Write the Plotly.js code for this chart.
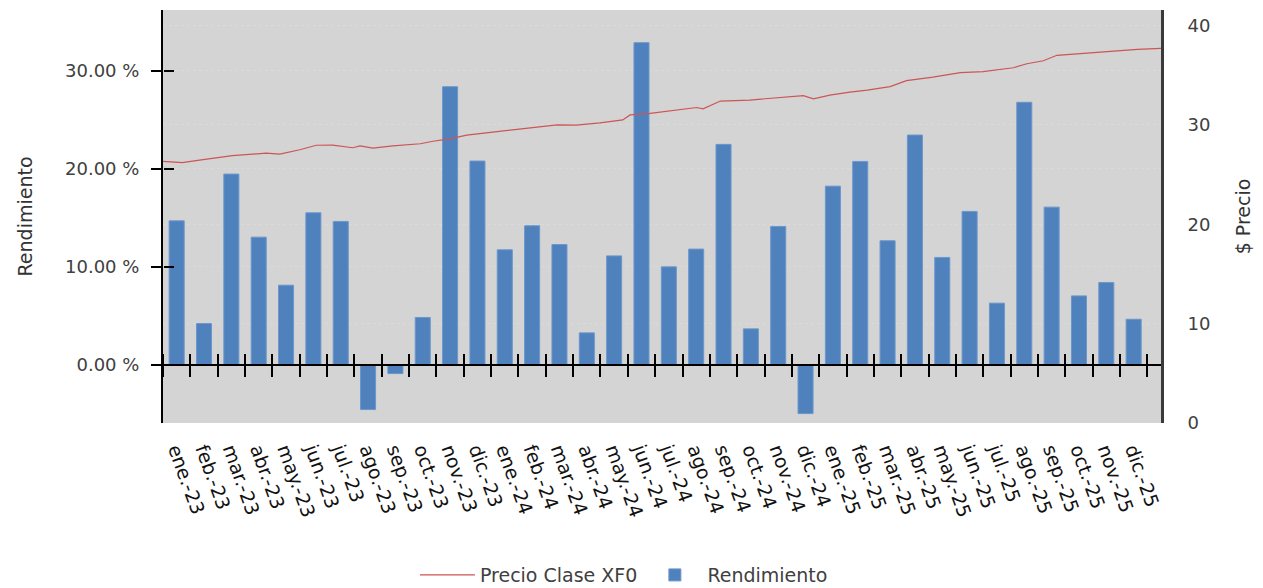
<!DOCTYPE html>
<html>
<head>
<meta charset="utf-8">
<script src="https://cdn.plot.ly/plotly-3.0.1.min.js"></script>
<style>
  html, body { margin: 0; padding: 0; background: #ffffff; }
  #chart { width: 1263px; height: 588px; }
</style>
</head>
<body>
<div id="chart"></div>
<script>
// ---- Data ----
const months = ['ene.-23','feb.-23','mar.-23','abr.-23','may.-23','jun.-23','jul.-23','ago.-23','sep.-23','oct.-23','nov.-23','dic.-23',
                'ene.-24','feb.-24','mar.-24','abr.-24','may.-24','jun.-24','jul.-24','ago.-24','sep.-24','oct.-24','nov.-24','dic.-24',
                'ene.-25','feb.-25','mar.-25','abr.-25','may.-25','jun.-25','jul.-25','ago.-25','sep.-25','oct.-25','nov.-25','dic.-25'];

// Rendimiento mensual (%)
const rendimiento = [14.68, 4.21, 19.45, 13.02, 8.12, 15.50, 14.62, -4.56, -0.89, 4.83, 28.36, 20.78,
                     11.73, 14.18, 12.27, 3.26, 11.11, 32.85, 9.99, 11.80, 22.48, 3.67, 14.11, -4.97,
                     18.22, 20.74, 12.65, 23.43, 10.95, 15.64, 6.29, 26.77, 16.08, 7.03, 8.40, 4.65];

// Precio Clase XF0 ($)
const precioFechas = ['2023-01-02','2023-01-23','2023-02-11','2023-03-19','2023-04-25','2023-05-10','2023-06-01','2023-06-19',
  '2023-07-07','2023-07-29','2023-08-06','2023-08-20','2023-09-11','2023-10-11','2023-10-25','2023-11-12','2023-12-01',
  '2023-12-19','2024-01-06','2024-02-01','2024-03-09','2024-03-30','2024-04-25','2024-05-20','2024-05-28','2024-06-19',
  '2024-07-25','2024-08-09','2024-08-16','2024-09-04','2024-10-06','2024-11-12','2024-12-04','2024-12-15','2025-01-02',
  '2025-01-24','2025-02-12','2025-03-09','2025-03-27','2025-04-25','2025-05-25','2025-06-19','2025-07-22','2025-08-06',
  '2025-08-24','2025-09-08','2025-10-07','2025-10-29','2025-11-13','2025-12-05','2025-12-31'];
const precioValores = [26.33, 26.20, 26.45, 26.90, 27.15, 27.06, 27.50, 27.95,
  27.97, 27.70, 27.88, 27.66, 27.88, 28.10, 28.35, 28.60, 28.97,
  29.15, 29.35, 29.62, 30.00, 29.97, 30.20, 30.50, 31.00, 31.16,
  31.56, 31.75, 31.62, 32.40, 32.50, 32.80, 32.95, 32.62, 33.00,
  33.30, 33.50, 33.85, 34.45, 34.80, 35.25, 35.35, 35.75, 36.15,
  36.45, 37.00, 37.20, 37.30, 37.45, 37.60, 37.70];

const yLeftRange = [-5.93, 36.18];
const yRightRange = [0, 41.56];
const zeroPos = (0 - yLeftRange[0]) / (yLeftRange[1] - yLeftRange[0]);

const FONT = 'DejaVu Sans, Verdana, sans-serif';
const nulls = months.map(() => null);

const traces = [
  {
    type: 'scatter', mode: 'lines', name: 'Precio Clase XF0',
    x: precioFechas, y: precioValores, xaxis: 'x4', yaxis: 'y2',
    line: { color: '#cc5555', width: 1.2 },
    legendrank: 1, hoverinfo: 'x+y'
  },
  {
    type: 'bar', name: 'Rendimiento',
    x: months, y: rendimiento, xaxis: 'x', yaxis: 'y',
    width: 0.55,
    marker: { color: '#4f81bd', line: { color: '#6b97cc', width: 1 } },
    legendrank: 2
  },
  // helper traces so that the overlay axes (crossing tick marks) are drawn
  { type: 'scatter', mode: 'lines', x: months, y: nulls, xaxis: 'x2', yaxis: 'y', showlegend: false, hoverinfo: 'skip' },
  { type: 'scatter', mode: 'lines', x: months, y: nulls, xaxis: 'x3', yaxis: 'y', showlegend: false, hoverinfo: 'skip' },
  { type: 'scatter', mode: 'lines', x: months, y: nulls, xaxis: 'x', yaxis: 'y3', showlegend: false, hoverinfo: 'skip' }
];

const catAxisBase = {
  type: 'category', categoryorder: 'array', categoryarray: months,
  range: [-0.5, 36], fixedrange: true, showgrid: false, zeroline: false
};

const layout = {
  width: 1263, height: 588,
  margin: { l: 163, r: 102, t: 10, b: 165 },
  paper_bgcolor: '#ffffff',
  plot_bgcolor: '#d4d4d4',
  font: { family: FONT, size: 19, color: '#404040' },
  showlegend: true,
  xaxis: Object.assign({}, catAxisBase, {
    showline: false, ticks: '', tickangle: 70,
    tickfont: { family: FONT, size: 19, color: '#111111' },
    ticklabelstandoff: 11
  }),
  // zero axis with tick marks hanging below
  xaxis2: Object.assign({}, catAxisBase, {
    overlaying: 'x', anchor: 'free', position: zeroPos, side: 'bottom',
    showline: true, linecolor: '#000000', linewidth: 2,
    ticks: 'outside', tickson: 'boundaries', ticklen: 11, tickwidth: 2, tickcolor: '#000000',
    showticklabels: false
  }),
  // same axis, tick marks pointing up
  xaxis3: Object.assign({}, catAxisBase, {
    overlaying: 'x', anchor: 'free', position: zeroPos, side: 'top',
    showline: false,
    ticks: 'outside', tickson: 'boundaries', ticklen: 11, tickwidth: 2, tickcolor: '#000000',
    showticklabels: false
  }),
  xaxis4: {
    type: 'date', overlaying: 'x', anchor: 'y2', visible: false,
    range: [precioFechas[0], precioFechas[precioFechas.length - 1]], fixedrange: true
  },
  yaxis: {
    range: yLeftRange, tick0: 0, dtick: 10, tickformat: '.2f', ticksuffix: ' %',
    showline: true, linecolor: '#000000', linewidth: 2,
    ticks: 'outside', ticklen: 10, tickwidth: 2, tickcolor: '#000000',
    ticklabelstandoff: 8,
    showgrid: true, gridcolor: '#dadada', griddash: 'dot', gridwidth: 1,
    zeroline: false, fixedrange: true,
    tickfont: { family: FONT, size: 18, color: '#404040' },
    title: { text: 'Rendimiento', font: { family: FONT, size: 19, color: '#333333' }, standoff: 27 }
  },
  // left axis tick marks pointing into the plot
  yaxis3: {
    range: yLeftRange, tick0: 0, dtick: 10, overlaying: 'y', side: 'right', anchor: 'free', position: 0,
    showline: false, ticks: 'outside', ticklen: 10, tickwidth: 2, tickcolor: '#000000',
    showticklabels: false, showgrid: false, zeroline: false, fixedrange: true
  },
  yaxis2: {
    range: yRightRange, tick0: 0, dtick: 10, overlaying: 'y', side: 'right', anchor: 'x4',
    showline: true, linecolor: '#3a3a3a', linewidth: 3,
    ticks: '', ticklabelstandoff: 20,
    showgrid: true, gridcolor: '#dadada', griddash: 'dot', gridwidth: 1,
    zeroline: false, fixedrange: true,
    tickfont: { family: FONT, size: 18, color: '#404040' },
    title: { text: '$ Precio', font: { family: FONT, size: 19, color: '#333333' }, standoff: 28 }
  },
  legend: {
    orientation: 'h', xref: 'container', yref: 'container',
    x: 0.494, xanchor: 'center', y: 0.022, yanchor: 'middle',
    font: { family: FONT, size: 19, color: '#404040' },
    bgcolor: 'rgba(0,0,0,0)', itemwidth: 55
  }
};

Plotly.newPlot('chart', traces, layout, { displayModeBar: false, staticPlot: true });
</script>
</body>
</html>
